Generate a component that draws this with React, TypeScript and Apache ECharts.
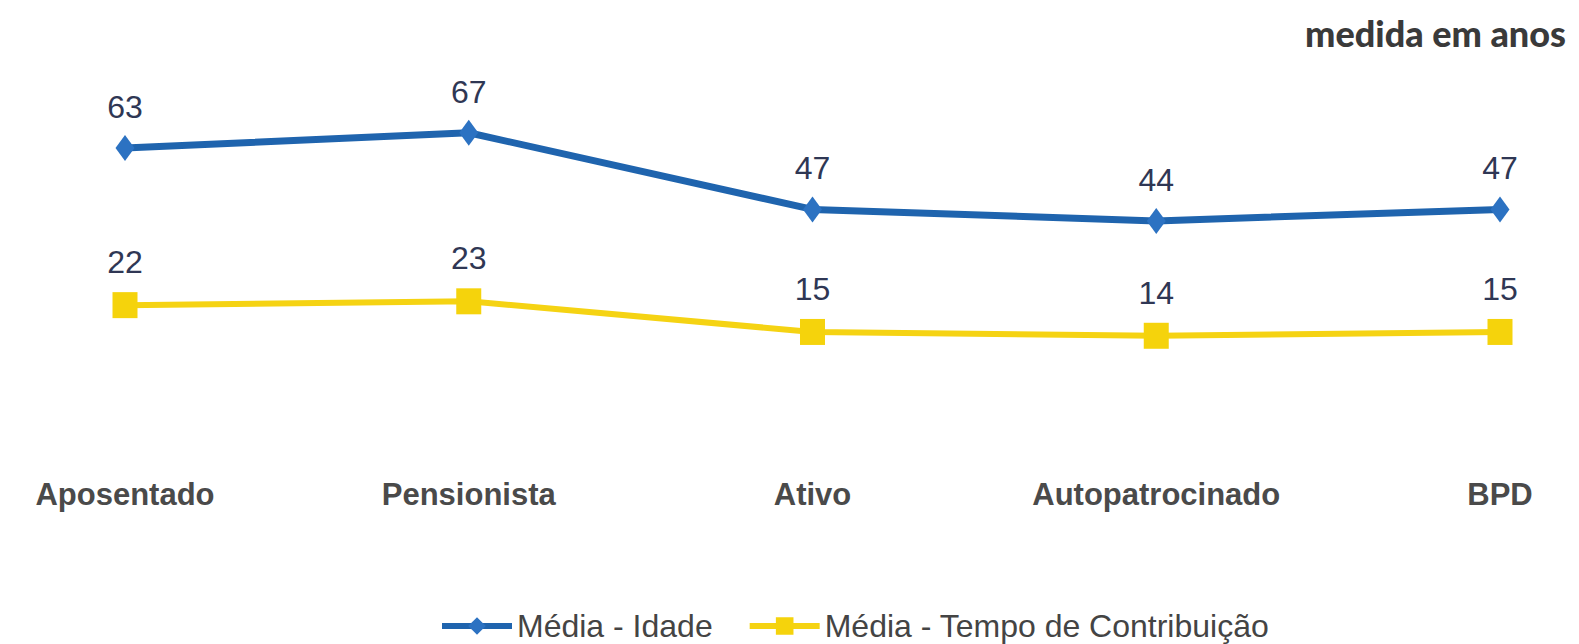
import React, { useEffect, useRef } from "react";
import * as echarts from "echarts";

const categories = ["Aposentado", "Pensionista", "Ativo", "Autopatrocinado", "BPD"];
const mediaIdade = [63, 67, 47, 44, 47];
const mediaTempo = [22, 23, 15, 14, 15];
const seriesNames = ["Média - Idade", "Média - Tempo de Contribuição"];
const titleText = "medida em anos";

export default function App() {
  const ref = useRef<HTMLDivElement>(null);
  useEffect(() => {
    if (!ref.current) return;
    const chart = echarts.init(ref.current, null, { renderer: "svg" });
    const labelStyle = {
      show: true,
      position: "top" as const,
      fontFamily: "Liberation Sans, Arial, sans-serif",
      fontSize: 32,
      color: "#2f3754",
    };
    chart.setOption({
      animation: false,
      backgroundColor: "#ffffff",
      title: {
        text: titleText,
        right: 8,
        top: 10,
        textStyle: {
          fontFamily: "Lato, sans-serif",
          fontWeight: 900,
          fontSize: 36,
          color: "#3a3a3a",
        },
      },
      legend: {
        left: 434,
        top: 604,
        itemWidth: 70,
        itemHeight: 22,
        itemGap: 34,
        lineStyle: { width: 6 },
        textStyle: {
          fontFamily: "Liberation Sans, Arial, sans-serif",
          fontSize: 32,
          lineHeight: 34,
          color: "#444444",
        },
        data: seriesNames,
      },
      grid: { left: 125, right: 79, top: 83, bottom: 178 },
      xAxis: {
        type: "category",
        data: categories,
        boundaryGap: false,
        axisLine: { show: false },
        axisTick: { show: false },
        axisLabel: {
          margin: 13,
          fontFamily: "Liberation Sans, Arial, sans-serif",
          fontWeight: "bold",
          fontSize: 31,
          color: "#4a4a4a",
        },
      },
      yAxis: {
        type: "value",
        min: -20,
        max: 80,
        show: false,
        splitLine: { show: false },
      },
      series: [
        {
          name: seriesNames[0],
          type: "line",
          data: mediaIdade,
          symbol: "diamond",
          symbolSize: [19, 26],
          lineStyle: { width: 7, color: "#1f64ae" },
          itemStyle: { color: "#2c72c2" },
          label: { ...labelStyle, distance: 12 },
        },
        {
          name: seriesNames[1],
          type: "line",
          data: mediaTempo,
          symbol: "rect",
          symbolSize: [25, 26],
          lineStyle: { width: 6, color: "#f5d313" },
          itemStyle: { color: "#f5d30c" },
          label: { ...labelStyle, distance: 14 },
        },
      ],
    });
    return () => chart.dispose();
  }, []);
  return (
    <div
      ref={ref}
      style={{ width: 1579, height: 644, position: "fixed", left: 0, top: 0 }}
    />
  );
}
